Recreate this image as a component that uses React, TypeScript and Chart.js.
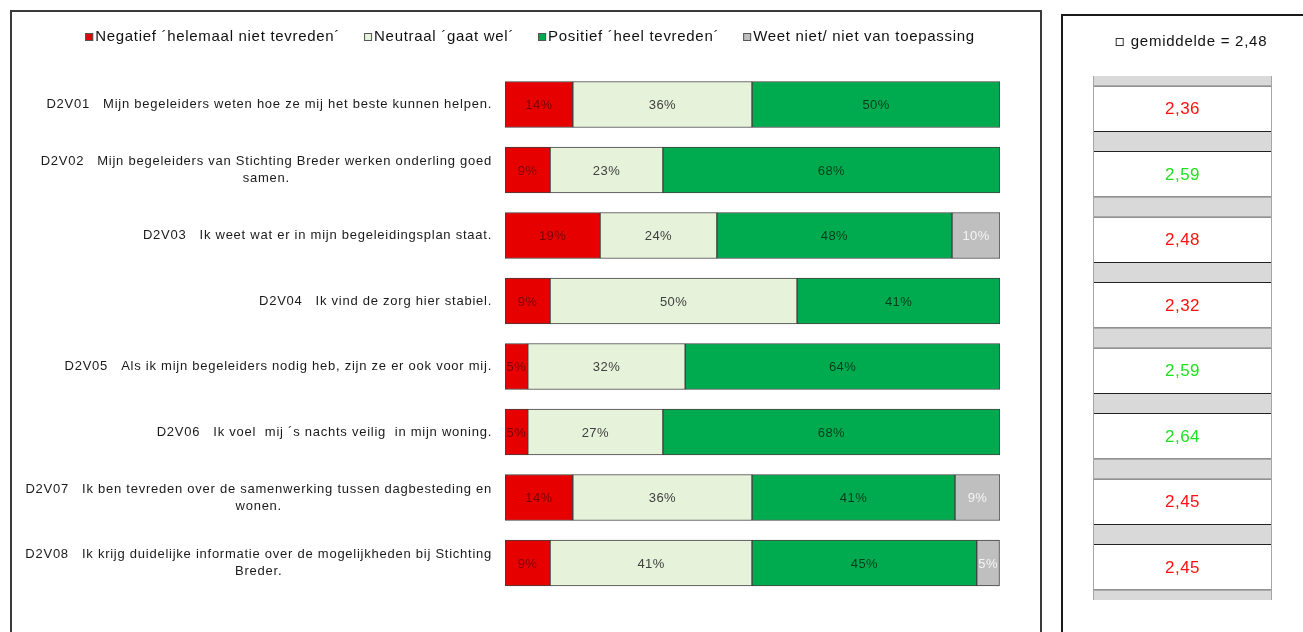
import React, { useEffect, useRef } from "react";
import { Chart, registerables } from "chart.js";
Chart.register(...registerables);

const codes = ["D2V01", "D2V02", "D2V03", "D2V04", "D2V05", "D2V06", "D2V07", "D2V08"];
const questions: string[][] = [
  ["Mijn begeleiders weten hoe ze mij het beste kunnen helpen."],
  ["Mijn begeleiders van Stichting Breder werken onderling goed", "samen."],
  ["Ik weet wat er in mijn begeleidingsplan staat."],
  ["Ik vind de zorg hier stabiel."],
  ["Als ik mijn begeleiders nodig heb, zijn ze er ook voor mij."],
  ["Ik voel  mij ´s nachts veilig  in mijn woning."],
  ["Ik ben tevreden over de samenwerking tussen dagbesteding en", "wonen."],
  ["Ik krijg duidelijke informatie over de mogelijkheden bij Stichting", "Breder."],
];

const seriesNames = [
  "Negatief ´helemaal niet tevreden´",
  "Neutraal ´gaat wel´",
  "Positief ´heel tevreden´",
  "Weet niet/ niet van toepassing",
];
const negatief = [13.7, 9.1, 19.2, 9.1, 4.6, 4.6, 13.7, 9.1];
const neutraal = [36.2, 22.8, 23.6, 49.9, 31.8, 27.3, 36.2, 40.8];
const positief = [50.1, 68.1, 47.5, 41.0, 63.6, 68.1, 41.0, 45.4];
const weetNiet = [0, 0, 9.7, 0, 0, 0, 9.1, 4.6];

const averages = [2.36, 2.59, 2.48, 2.32, 2.59, 2.64, 2.45, 2.45];
const overallMean = 2.48;
const meanLabel = "gemiddelde = 2,48";

const FONT = "'Liberation Sans', Arial, sans-serif";
const fills = ["#E60000", "#E6F2DA", "#00AA4F", "#BFBFBF"];
const textColors = ["#7A0000", "#404040", "#003D1C", "#F4F4F4"];

const fmtNum = (v: number) => v.toFixed(2).replace(".", ",");

function setSpacing(ctx: any, px: number) {
  if ("letterSpacing" in ctx) ctx.letterSpacing = px + "px";
}

export default function App() {
  const leftRef = useRef<HTMLCanvasElement>(null);
  const rightRef = useRef<HTMLCanvasElement>(null);

  useEffect(() => {
    const labels = codes.map((c, i) => [c + "   " + questions[i][0], ...questions[i].slice(1)]);
    const seriesData = [negatief, neutraal, positief, weetNiet];

    const labelPlugin = {
      id: "leftLabels",
      afterDraw(chart: any) {
        const ctx = chart.ctx;
        const y = chart.scales.y;
        ctx.save();
        ctx.font = "13px " + FONT;
        setSpacing(ctx, 0.75);
        ctx.fillStyle = "#1a1a1a";
        ctx.textBaseline = "middle";
        ctx.textAlign = "left";
        const right = chart.chartArea.left - 13;
        const lh = 17;
        labels.forEach((lines, i) => {
          const widths = lines.map((l) => ctx.measureText(l).width);
          const maxW = Math.max(...widths);
          const cx = right - maxW / 2;
          const yc = y.getPixelForValue(i);
          const y0 = yc - ((lines.length - 1) * lh) / 2;
          lines.forEach((l, j) => ctx.fillText(l, cx - widths[j] / 2, y0 + j * lh));
        });
        ctx.font = "15px " + FONT;
        setSpacing(ctx, 0.7);
        ctx.textAlign = "left";
        const box = 8, gap = 2, spacing = 24;
        const widths = seriesNames.map((n) => ctx.measureText(n).width);
        const total = widths.reduce((a, b) => a + b + box + gap, 0) + spacing * (seriesNames.length - 1);
        let x = 530 - total / 2;
        const ly = 37;
        seriesNames.forEach((n, k) => {
          ctx.fillStyle = fills[k];
          ctx.fillRect(x, ly - 4, box, box);
          ctx.strokeStyle = "#555";
          ctx.lineWidth = 1;
          ctx.strokeRect(x + 0.5, ly - 3.5, box - 1, box - 1);
          ctx.fillStyle = "#111";
          ctx.fillText(n, x + box + gap, ly);
          x += box + gap + widths[k] + spacing;
        });
        ctx.restore();
      },
      afterDatasetsDraw(chart: any) {
        const ctx = chart.ctx;
        ctx.save();
        ctx.font = "13px " + FONT;
        setSpacing(ctx, 0.4);
        ctx.textAlign = "left";
        ctx.textBaseline = "middle";
        chart.data.datasets.forEach((ds: any, di: number) => {
          const meta = chart.getDatasetMeta(di);
          meta.data.forEach((el: any, i: number) => {
            const v = ds.data[i];
            if (!v) return;
            const t = Math.round(v) + "%";
            const w = ctx.measureText(t).width;
            ctx.fillStyle = textColors[di];
            ctx.fillText(t, (el.x + el.base) / 2 - w / 2, el.y + 1);
          });
        });
        ctx.restore();
      },
    };

    const left = new Chart(leftRef.current!, {
      type: "bar",
      data: {
        labels: codes,
        datasets: seriesNames.map((n, k) => ({
          label: n,
          data: seriesData[k],
          backgroundColor: fills[k],
          borderColor: "#404040",
          borderWidth: 1,
          borderSkipped: false,
          barThickness: 46,
        })),
      },
      options: {
        indexAxis: "y",
        animation: false,
        responsive: false,
        events: [],
        layout: { padding: { left: 505, right: 40, top: 71.75, bottom: 36.25 } },
        plugins: { legend: { display: false }, tooltip: { enabled: false } },
        scales: {
          x: { stacked: true, min: 0, max: 100, display: false },
          y: { stacked: true, display: false },
        },
      },
      plugins: [labelPlugin],
    } as any);

    const rightPlugin = {
      id: "rightPanel",
      beforeDatasetsDraw(chart: any) {
        const { left, top, width, height } = chart.chartArea;
        const ctx = chart.ctx;
        ctx.save();
        ctx.fillStyle = "#D9D9D9";
        ctx.fillRect(left, top, width, height);
        ctx.restore();
      },
      afterDatasetsDraw(chart: any) {
        const { left, right, top, bottom } = chart.chartArea;
        const ctx = chart.ctx;
        ctx.save();
        ctx.strokeStyle = "#A6A6A6";
        ctx.lineWidth = 1;
        ctx.beginPath();
        ctx.moveTo(left + 0.5, top);
        ctx.lineTo(left + 0.5, bottom);
        ctx.moveTo(right - 0.5, top);
        ctx.lineTo(right - 0.5, bottom);
        ctx.stroke();
        ctx.font = "17px " + FONT;
        setSpacing(ctx, 0.5);
        ctx.textAlign = "left";
        ctx.textBaseline = "middle";
        const meta = chart.getDatasetMeta(0);
        meta.data.forEach((el: any, i: number) => {
          const v = averages[i];
          const t = fmtNum(v);
          const w = ctx.measureText(t).width;
          ctx.fillStyle = v > overallMean ? "#1EE01E" : "#FF1010";
          ctx.fillText(t, (left + right) / 2 - w / 2, el.y + 1);
        });
        ctx.font = "15px " + FONT;
        setSpacing(ctx, 0.75);
        ctx.textAlign = "left";
        const tw = ctx.measureText(meanLabel).width;
        const box = 8, gap = 7;
        const x0 = (left + right) / 2 + 9 - (tw + box + gap) / 2;
        const hy = 42;
        ctx.fillStyle = "#fff";
        ctx.fillRect(x0, hy - 4, box, box);
        ctx.strokeStyle = "#333";
        ctx.strokeRect(x0 + 0.5, hy - 3.5, box - 1, box - 1);
        ctx.fillStyle = "#111";
        ctx.fillText(meanLabel, x0 + box + gap, hy);
        ctx.restore();
      },
    };

    const rightChart = new Chart(rightRef.current!, {
      type: "bar",
      data: {
        labels: codes,
        datasets: [
          {
            label: meanLabel,
            data: averages.map(() => 1),
            backgroundColor: "#FFFFFF",
            borderColor: "#222",
            borderWidth: { top: 1, bottom: 1, left: 0, right: 0 },
            borderSkipped: false,
            barThickness: 46,
          },
        ],
      },
      options: {
        indexAxis: "y",
        animation: false,
        responsive: false,
        events: [],
        layout: { padding: { left: 30, right: 31, top: 76, bottom: 32 } },
        plugins: { legend: { display: false }, tooltip: { enabled: false } },
        scales: {
          x: { min: 0, max: 1, display: false },
          y: { display: false },
        },
      },
      plugins: [rightPlugin],
    } as any);

    return () => {
      left.destroy();
      rightChart.destroy();
    };
  }, []);

  return (
    <div style={{ position: "fixed", left: 0, top: 0, width: 1303, height: 632, overflow: "hidden", background: "#fff" }}>
      <div style={{ position: "absolute", left: 10, top: 10, width: 1032, height: 640, border: "2px solid #3a3a3a", boxSizing: "border-box" }} />
      <div style={{ position: "absolute", left: 1061, top: 14, width: 260, height: 640, border: "2px solid #1a1a1a", boxSizing: "border-box" }} />
      <canvas ref={leftRef} width={1040} height={632} style={{ position: "absolute", left: 0, top: 0, width: 1040, height: 632 }} />
      <canvas ref={rightRef} width={240} height={632} style={{ position: "absolute", left: 1063, top: 0, width: 240, height: 632 }} />
    </div>
  );
}
